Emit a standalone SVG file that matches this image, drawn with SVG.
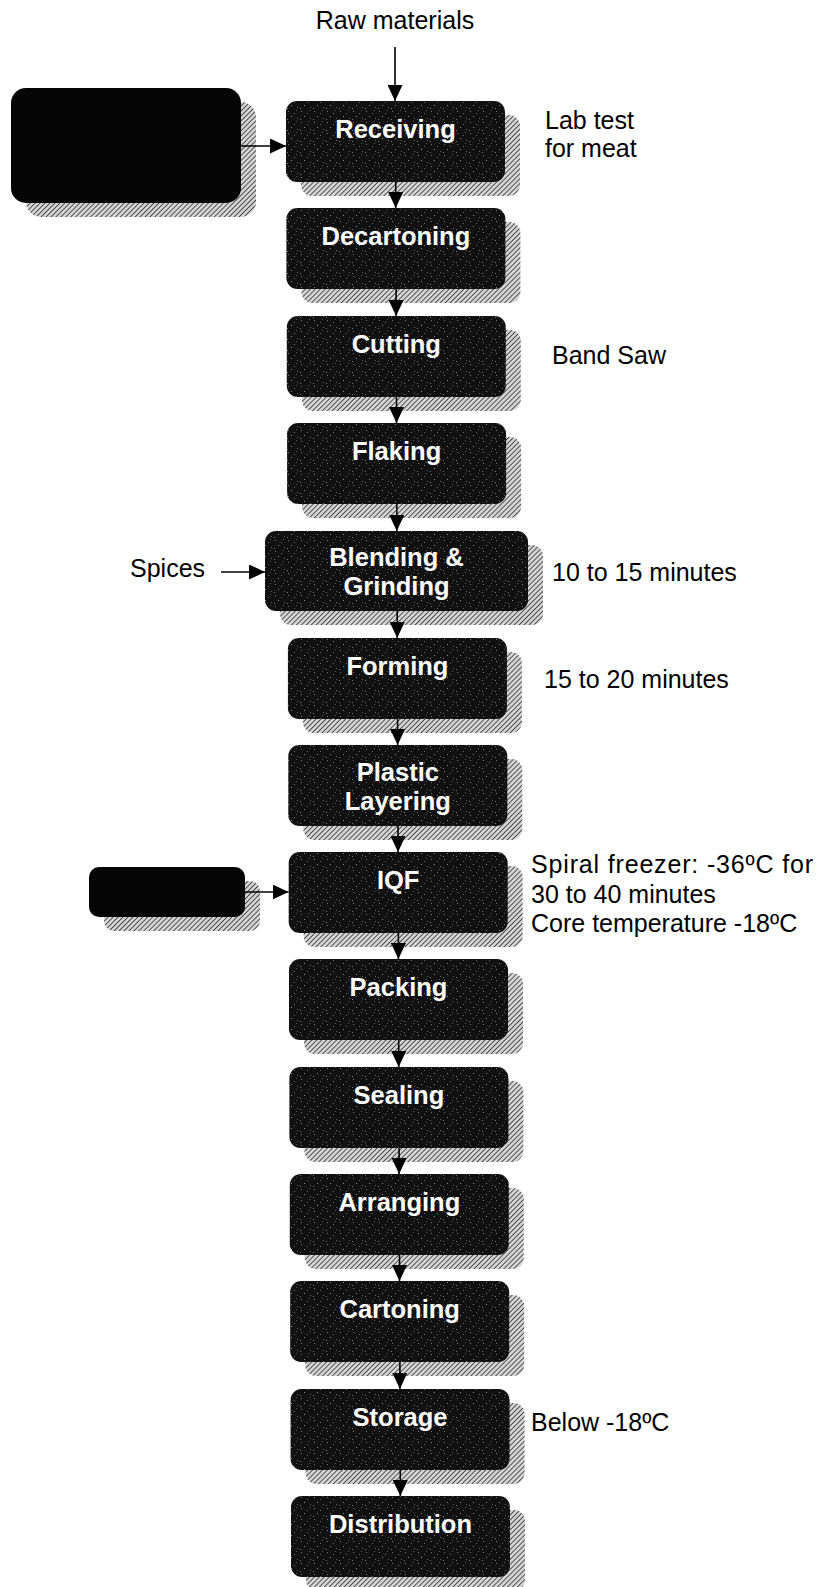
<svg xmlns="http://www.w3.org/2000/svg" width="818" height="1587" viewBox="0 0 818 1587">
<style>
.box{fill:url(#speck)}
.shadow{fill:url(#hatch)}
.lbl{font-family:"Liberation Sans",Arial,sans-serif;font-size:25.5px;font-weight:bold;fill:#fff;text-anchor:middle}
.note{font-family:"Liberation Sans",Arial,sans-serif;font-size:25px;fill:#000}
.conn line{stroke:#000;stroke-width:1.6;marker-end:url(#arr)}
</style>
<defs>
<pattern id="hatch" width="3.5" height="3.5" patternUnits="userSpaceOnUse" patternTransform="rotate(45)">
<rect width="3.5" height="3.5" fill="#d4d4d4"/>
<line x1="0" y1="0" x2="0" y2="3.5" stroke="#2a2a2a" stroke-width="1.5"/>
</pattern>
<pattern id="speck" width="13" height="11" patternUnits="userSpaceOnUse">
<rect width="13" height="11" fill="#111"/>
<rect x="2" y="1" width="1" height="1" fill="#777"/>
<rect x="8" y="3" width="1" height="1" fill="#666"/>
<rect x="5" y="6" width="1" height="1" fill="#888"/>
<rect x="11" y="8" width="1" height="1" fill="#666"/>
<rect x="1" y="9" width="1" height="1" fill="#777"/>
<rect x="10" y="0" width="1" height="1" fill="#555"/>
</pattern>
<marker id="arr" markerWidth="15" markerHeight="15" refX="16" refY="7.5" orient="auto" markerUnits="userSpaceOnUse">
<path d="M0,0 L16,7.5 L0,15 Z" fill="#000"/>
</marker>
</defs>

<text class="note" x="395" y="29" text-anchor="middle">Raw materials</text>

<g id="input1">
<rect class="shadow" x="26" y="102" width="230" height="115" rx="15"/>
<rect x="11" y="88" width="230" height="115" rx="15" fill="#050505"/>
</g>
<g id="input2">
<rect class="shadow" x="104" y="881" width="156" height="50" rx="10"/>
<rect x="89" y="867" width="156" height="50" rx="10" fill="#050505"/>
</g>

<g id="receiving"><rect class="shadow" x="301" y="115" width="219" height="81" rx="11"/><rect class="box" x="286" y="101" width="219" height="81" rx="11"/><text class="lbl" x="395.5" y="138">Receiving</text></g>
<g id="decartoning"><rect class="shadow" x="301.4" y="222" width="219" height="81" rx="11"/><rect class="box" x="286.4" y="208" width="219" height="81" rx="11"/><text class="lbl" x="395.9" y="245">Decartoning</text></g>
<g id="cutting"><rect class="shadow" x="301.8" y="330" width="219" height="81" rx="11"/><rect class="box" x="286.8" y="316" width="219" height="81" rx="11"/><text class="lbl" x="396.3" y="353">Cutting</text></g>
<g id="flaking"><rect class="shadow" x="302.1" y="437" width="219" height="81" rx="11"/><rect class="box" x="287.1" y="423" width="219" height="81" rx="11"/><text class="lbl" x="396.6" y="460">Flaking</text></g>
<g id="blending"><rect class="shadow" x="280" y="545" width="263" height="80" rx="11"/><rect class="box" x="265" y="531" width="263" height="80" rx="11"/><text class="lbl" x="396.5" y="566">Blending &amp;</text><text class="lbl" x="396.5" y="595">Grinding</text></g>
<g id="forming"><rect class="shadow" x="302.9" y="652" width="219" height="81" rx="11"/><rect class="box" x="287.9" y="638" width="219" height="81" rx="11"/><text class="lbl" x="397.4" y="675">Forming</text></g>
<g id="plastic"><rect class="shadow" x="303.3" y="759" width="219" height="81" rx="11"/><rect class="box" x="288.3" y="745" width="219" height="81" rx="11"/><text class="lbl" x="397.8" y="781">Plastic</text><text class="lbl" x="397.8" y="810">Layering</text></g>
<g id="iqf"><rect class="shadow" x="303.7" y="866" width="219" height="81" rx="11"/><rect class="box" x="288.7" y="852" width="219" height="81" rx="11"/><text class="lbl" x="398.2" y="889">IQF</text></g>
<g id="packing"><rect class="shadow" x="304" y="973" width="219" height="81" rx="11"/><rect class="box" x="289" y="959" width="219" height="81" rx="11"/><text class="lbl" x="398.5" y="996">Packing</text></g>
<g id="sealing"><rect class="shadow" x="304.4" y="1081" width="219" height="81" rx="11"/><rect class="box" x="289.4" y="1067" width="219" height="81" rx="11"/><text class="lbl" x="398.9" y="1104">Sealing</text></g>
<g id="arranging"><rect class="shadow" x="304.8" y="1188" width="219" height="81" rx="11"/><rect class="box" x="289.8" y="1174" width="219" height="81" rx="11"/><text class="lbl" x="399.3" y="1211">Arranging</text></g>
<g id="cartoning"><rect class="shadow" x="305.2" y="1295" width="219" height="81" rx="11"/><rect class="box" x="290.2" y="1281" width="219" height="81" rx="11"/><text class="lbl" x="399.7" y="1318">Cartoning</text></g>
<g id="storage"><rect class="shadow" x="305.6" y="1403" width="219" height="81" rx="11"/><rect class="box" x="290.6" y="1389" width="219" height="81" rx="11"/><text class="lbl" x="400.1" y="1426">Storage</text></g>
<g id="distribution"><rect class="shadow" x="306" y="1510" width="219" height="81" rx="11"/><rect class="box" x="291" y="1496" width="219" height="81" rx="11"/><text class="lbl" x="400.5" y="1533">Distribution</text></g>

<g id="connectors" class="conn">
<line x1="395" y1="47" x2="395" y2="101"/>
<line x1="241" y1="146" x2="286" y2="146"/>
<line x1="221" y1="572" x2="265" y2="572"/>
<line x1="245" y1="892" x2="288.7" y2="892"/>
<line x1="395.7" y1="182" x2="395.7" y2="208"/>
<line x1="396.1" y1="289" x2="396.1" y2="316"/>
<line x1="396.5" y1="397" x2="396.5" y2="423"/>
<line x1="396.8" y1="504" x2="396.8" y2="531"/>
<line x1="397.2" y1="611" x2="397.2" y2="638"/>
<line x1="397.6" y1="719" x2="397.6" y2="745"/>
<line x1="398" y1="826" x2="398" y2="852"/>
<line x1="398.4" y1="933" x2="398.4" y2="959"/>
<line x1="398.7" y1="1040" x2="398.7" y2="1067"/>
<line x1="399.1" y1="1148" x2="399.1" y2="1174"/>
<line x1="399.5" y1="1255" x2="399.5" y2="1281"/>
<line x1="399.9" y1="1362" x2="399.9" y2="1389"/>
<line x1="400.3" y1="1470" x2="400.3" y2="1496"/>
</g>

<text class="note" x="545" y="129">Lab test</text>
<text class="note" x="545" y="157">for meat</text>
<text class="note" x="552" y="364">Band Saw</text>
<text class="note" x="130" y="577">Spices</text>
<text class="note" x="552" y="581">10 to 15 minutes</text>
<text class="note" x="544" y="688">15 to 20 minutes</text>
<text class="note" x="531" y="873" textLength="282" lengthAdjust="spacing">Spiral freezer: -36ºC for</text>
<text class="note" x="531" y="903">30 to 40 minutes</text>
<text class="note" x="531" y="932">Core temperature -18ºC</text>
<text class="note" x="531" y="1431">Below -18ºC</text>
</svg>
